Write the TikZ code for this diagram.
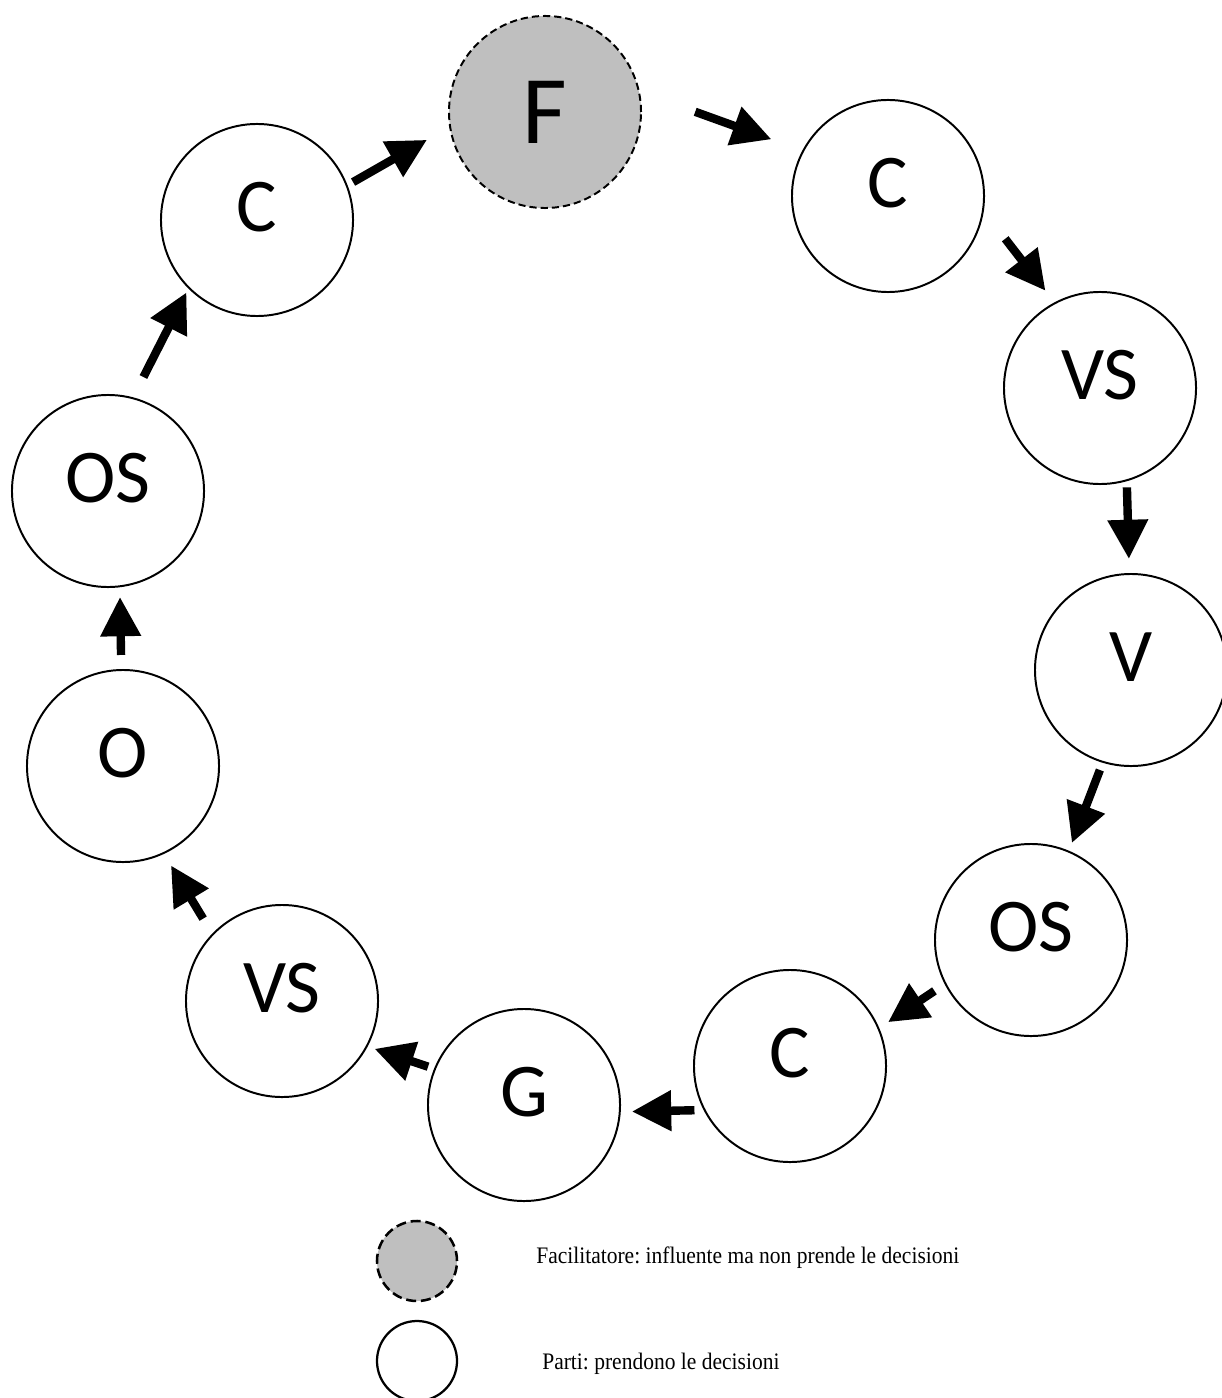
\documentclass[tikz,border=0pt]{standalone}
\usepackage{fontspec}
\setmainfont{Liberation Serif}
\newfontfamily\nodefont{Carlito}
\usetikzlibrary{arrows.meta}
\definecolor{facgray}{HTML}{BFBFBF}
\frenchspacing
\begin{document}
\begin{tikzpicture}[x=0.025cm,y=-0.025cm,
  party/.style={circle,draw,line width=1.4pt,minimum size=4.8cm,inner sep=0pt,
    fill=white,font=\nodefont\fontsize{54}{54}\selectfont,text depth=0.65cm},
  facil/.style={party,fill=facgray,dash pattern=on 0.18cm off 0.1cm,
    font=\nodefont\fontsize{69}{69}\selectfont,text depth=0pt},
  legfacil/.style={circle,draw,line width=1.8pt,minimum size=2cm,inner sep=0pt,
    fill=facgray,dash pattern=on 0.25cm off 0.12cm},
  legparty/.style={circle,draw,line width=1.6pt,minimum size=2cm,inner sep=0pt,fill=white},
  legtext/.style={anchor=base west,inner sep=0pt,font=\fontsize{15.3}{15.3}\selectfont},
  flow/.style={line width=0.21cm,-{Triangle[length=0.98cm,width=0.97cm]}}
]
\useasboundingbox (0,0) rectangle (1221,1398);

% ring of participants
\node[facil] (F)   at (545,112)  {F};
\node[party] (C1)  at (888,196)  {C};
\node[party] (VS1) at (1100,388) {VS};
\node[party] (V)   at (1131,670) {V};
\node[party] (OS1) at (1031,940) {OS};
\node[party] (C2)  at (790,1066) {C};
\node[party] (G)   at (524,1105) {G};
\node[party] (VS2) at (282,1001) {VS};
\node[party] (O)   at (123,766)  {O};
\node[party] (OS2) at (108,491)  {OS};
\node[party] (C3)  at (257,220)  {C};

% flow around the ring
\draw[flow, shorten <=0.158cm, shorten >=0.64cm]  (C3.21.1)   -- (F.189.9);
\draw[flow, shorten <=1.47cm,  shorten >=0.823cm] (F.12.1)    -- (C1.152.6);
\draw[flow, shorten <=0.873cm, shorten >=0.368cm] (C1.351.6)  -- (VS1.118.4);
\draw[flow, shorten <=0.153cm, shorten >=0.351cm] (VS1.286.8) -- (V.91.8);
\draw[flow, shorten <=0.193cm, shorten >=0.208cm] (V.253.1)   -- (OS1.67.0);
\draw[flow, shorten <=0.305cm, shorten >=0.265cm] (OS1.207.9) -- (C2.23.3);
\draw[flow, shorten <=0.228cm, shorten >=0.28cm]  (C2.207.6)  -- (G.356.5);
\draw[flow, shorten <=0.158cm, shorten >=0.183cm] (G.158.3)   -- (VS2.332.7);
\draw[flow, shorten <=0.438cm, shorten >=0.338cm] (VS2.136.5) -- (O.295.9);
\draw[flow, shorten <=0.351cm, shorten >=0.244cm] (O.91.8)    -- (OS2.277.1);
\draw[flow, shorten <=0.568cm, shorten >=0.108cm] (OS2.75.4)  -- (C3.225.5);

% legend
\node[legfacil] (keyF) at (417,1261) {};
\node[legparty] (keyP) at (417,1361) {};
\node[legtext] (keyFtext) at (536,1263)
  {\scalebox{1}[1.1]{Facilitatore: influente ma non prende le decisioni}};
\node[legtext] (keyPtext) at (542,1369)
  {\scalebox{1}[1.1]{Parti: prendono le decisioni}};
\end{tikzpicture}
\end{document}
